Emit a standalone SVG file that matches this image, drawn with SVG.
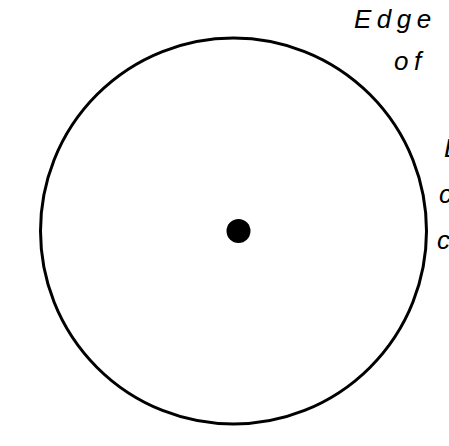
<svg xmlns="http://www.w3.org/2000/svg" width="449" height="446" viewBox="0 0 449 446">
<style>
.lbl{font-family:"Liberation Sans",Arial,sans-serif;font-style:italic;font-size:26px;letter-spacing:5.5px;fill:#000}
</style>
<rect width="449" height="446" fill="#fff"/>
<g id="circle">
<circle cx="233.5" cy="231" r="193" fill="none" stroke="#000" stroke-width="3"/>
</g>
<g id="center">
<circle cx="238.5" cy="231" r="12" fill="#000"/>
</g>
<g id="labels">
<text class="lbl" x="354" y="28">Edge</text>
<text class="lbl" x="394" y="70">of</text>
<text class="lbl" x="444" y="157">E</text>
<text class="lbl" x="439" y="203">c</text>
<text class="lbl" x="437" y="249">c</text>
</g>
</svg>
